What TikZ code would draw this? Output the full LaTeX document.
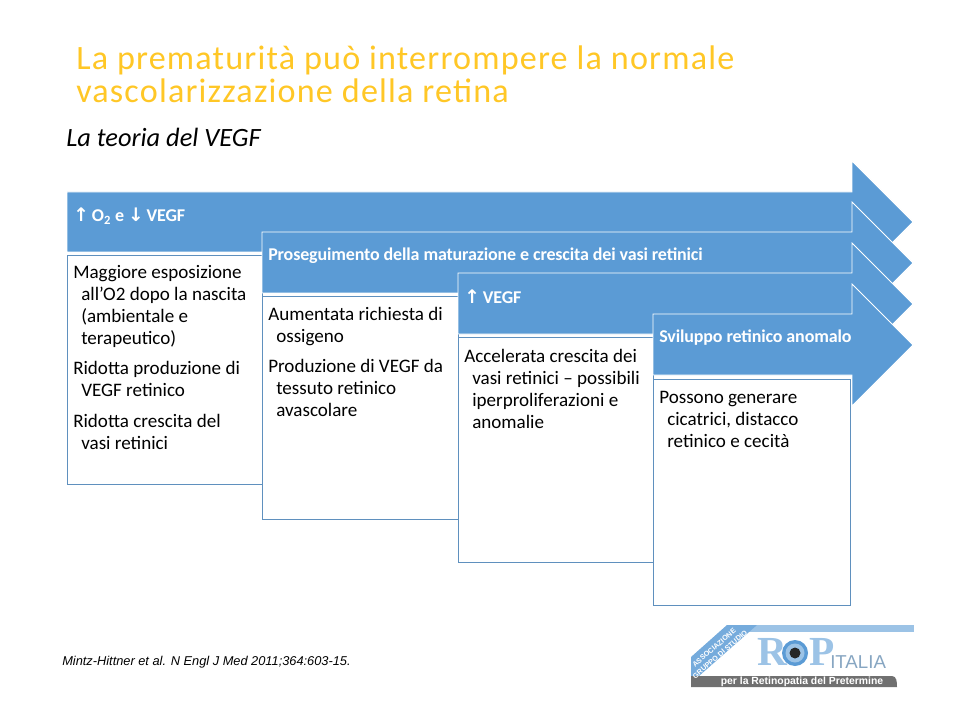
\documentclass[tikz,border=0pt]{standalone}
\usepackage{fontspec}
\setmainfont{Carlito}
\newfontfamily\arrowfont{DejaVu Sans}
\newfontfamily\citefont{Liberation Sans}
\newfontfamily\logofont{Liberation Sans}
\newfontfamily\logoserif{Liberation Serif}
\newfontfamily\titlefont[LetterSpace=3.5]{Carlito}
\newfontfamily\headfont[LetterSpace=-0.8]{Carlito}
\definecolor{bluefill}{HTML}{5B9BD5}
\definecolor{boxline}{HTML}{5F90BE}
\definecolor{titlecol}{HTML}{FFC726}
\definecolor{logoblue}{HTML}{9CC3E6}
\definecolor{logogrey}{HTML}{707070}
\tikzset{
  flowarrow/.style={fill=bluefill,draw=white,line width=0.6pt},
  flowbox/.style={fill=white,draw=boxline,line width=0.6pt},
  headtext/.style={anchor=west,inner sep=0pt,text=white,font=\fontsize{13.5pt}{15pt}\headfont\bfseries},
  bodytext/.style={anchor=north west,inner sep=0pt,align=left,font=\fontsize{14.3pt}{16.5pt}\selectfont},
  titletext/.style={anchor=north west,inner sep=0pt,align=left,text=titlecol,font=\fontsize{25.6pt}{24.7pt}\titlefont}
}
\newcommand{\hg}{\hspace*{6pt}}
\newcommand{\up}{{\arrowfont\fontsize{14pt}{14pt}\selectfont ↑}}
\newcommand{\dn}{{\arrowfont\fontsize{14pt}{14pt}\selectfont ↓}}
\begin{document}
\begin{tikzpicture}[x=0.75pt,y=-0.75pt]
\useasboundingbox (0,0) rectangle (960,720);
\fill[white] (0,0) rectangle (960,720);
\node[titletext] (title) at (76,45.5) {La prematurità può interrompere la normale\\vascolarizzazione della retina};
\node[anchor=west,inner sep=0pt,font=\fontsize{19.8pt}{22pt}\selectfont\itshape] (subtitle) at (66,137) {La teoria del VEGF};
% arrow 1
\draw[flowarrow] (67,192) -- (852,192) -- (852,161) -- (913,222) -- (852,283) -- (852,252) -- (67,252) -- cycle;
\draw[flowbox] (67,255) rectangle (262,484);
\node[headtext] (h1) at (73,216) {\up\,O\textsubscript{2} e \dn\,VEGF};
\node[bodytext] (b1) at (73,265) {Maggiore esposizione\\\hg all’O2 dopo la nascita\\\hg (ambientale e\\\hg terapeutico)\\[6pt]Ridotta produzione di\\\hg VEGF retinico\\[6.5pt]Ridotta crescita del\\\hg vasi retinici};
% arrow 2
\draw[flowarrow] (262,232) -- (852,232) -- (852,202) -- (913,263) -- (852,324) -- (852,293) -- (262,293) -- cycle;
\draw[flowbox] (262,296) rectangle (458,519);
\node[headtext] (h2) at (268,256) {Proseguimento della maturazione e crescita dei vasi retinici};
\node[bodytext] (b2) at (268,307) {Aumentata richiesta di\\\hg ossigeno\\[6pt]Produzione di VEGF da\\\hg tessuto retinico\\\hg avascolare};
% arrow 3
\draw[flowarrow] (458,273) -- (852,273) -- (852,243) -- (913,304) -- (852,365) -- (852,334) -- (458,334) -- cycle;
\draw[flowbox] (458,337) rectangle (653,562);
\node[headtext] (h3) at (464,297) {\up\,VEGF};
\node[bodytext] (b3) at (464,349) {Accelerata crescita dei\\\hg vasi retinici -- possibili\\\hg iperproliferazioni e\\\hg anomalie};
% arrow 4
\draw[flowarrow] (653,314) -- (852,314) -- (852,284) -- (913,345) -- (852,406) -- (852,375) -- (653,375) -- cycle;
\draw[flowbox] (653,379) rectangle (850,605);
\node[headtext] (h4) at (659,338) {Sviluppo retinico anomalo};
\node[bodytext] (b4) at (659,391) {Possono generare\\\hg cicatrici, distacco\\\hg retinico e cecità};
% citation
\node[anchor=west,inner sep=0pt,font=\fontsize{9.6pt}{11pt}\citefont\itshape] (cite) at (62,662) {Mintz-Hittner et al. N Engl J Med 2011;364:603-15.};
% logo
\fill[logoblue] (740,625) rectangle (914,632);
\fill[bluefill!60!logoblue] (691,657) -- (727,625) -- (757,625) -- (691,683) -- cycle;
\fill[logogrey] (691,687) -- (691,676) -- (892,676) to[out=0,in=90] (897,687) -- cycle;
\node[rotate=41,text=white,align=center,inner sep=0pt,font=\fontsize{5.4pt}{6.6pt}\logofont\bfseries] (logoa) at (717,651) {ASSOCIAZIONE\\GRUPPO DI STUDIO};
\node[text=white,inner sep=0pt,font=\fontsize{7.8pt}{9pt}\logofont\bfseries] (logob) at (802,681.5) {per la Retinopatia del Pretermine};
\node[text=logoblue,inner sep=0pt,font=\fontsize{31pt}{31pt}\logoserif\bfseries] (logor) at (772,652) {R};
\node[text=logoblue,inner sep=0pt,font=\fontsize{31pt}{31pt}\logoserif\bfseries] (logop) at (822,652) {P};
\fill[bluefill] (795,653) circle[radius=13];
\fill[logoblue] (795,653) circle[radius=9.5];
\fill[black!85] (795,653) circle[radius=5.5];
\node[anchor=west,text=bluefill!60!gray!80!white,inner sep=0pt,font=\fontsize{14pt}{15pt}\logofont] (logoi) at (830,662) {ITALIA};
\end{tikzpicture}
\end{document}
